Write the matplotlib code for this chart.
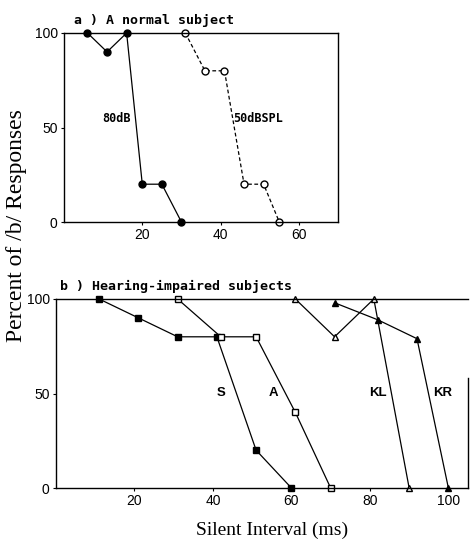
import matplotlib
matplotlib.use("Agg")
import matplotlib.pyplot as plt

# ---- data ----
# a) normal subject
x_80 = [6, 11, 16, 20, 25, 30]
y_80 = [100, 90, 100, 20, 20, 0]
x_50 = [31, 36, 41, 46, 51, 55]
y_50 = [100, 80, 80, 20, 20, 0]

# b) hearing-impaired subjects
x_S = [11, 21, 31, 41, 51, 60]
y_S = [100, 90, 80, 80, 20, 0]
x_A = [31, 42, 51, 61, 70]
y_A = [100, 80, 80, 40, 0]
x_KL = [61, 71, 81, 90]
y_KL = [100, 80, 100, 0]
x_KR = [71, 82, 92, 100]
y_KR = [98, 89, 79, 0]

xticks_a = [20, 40, 60]
xticks_b = [20, 40, 60, 80, 100]
yticks = [0, 50, 100]

W, H = 471, 546
fig = plt.figure(figsize=(W / 100, H / 100), dpi=100)

def ax_rect(l, r, t, b):
    return [l / W, 1 - b / H, (r - l) / W, (b - t) / H]

ax1 = fig.add_axes(ax_rect(64, 338, 33, 222))
ax2 = fig.add_axes(ax_rect(56, 468, 299, 488))

lw = 0.9
mono = {"family": "DejaVu Sans Mono", "weight": "bold"}
tick_font = "Liberation Sans"

ax1.set_xlim(0, 70)
ax1.set_xticks(xticks_a)
ax2.set_xlim(0, 105)
ax2.set_xticks(xticks_b)

for ax in (ax1, ax2):
    ax.set_ylim(0, 100)
    ax.set_yticks(yticks)
    ax.tick_params(direction="out", length=2.5, width=0.8, pad=2, labelsize=10)
    for lab in ax.get_xticklabels() + ax.get_yticklabels():
        lab.set_fontfamily(tick_font)
    for sp in ax.spines.values():
        sp.set_linewidth(1.0)

# panel a
ax1.plot(x_80, y_80, color="black", lw=lw, marker="o", ms=5, mfc="black",
         mec="black", clip_on=False)
ax1.plot(x_50, y_50, color="black", lw=lw, ls=(0, (3, 2)), marker="o", ms=5,
         mfc="white", mec="black", clip_on=False)
ax1.text(13.5, 55, "80dB", fontsize=8.5, ha="center", va="center", **mono)
ax1.text(49.5, 55, "50dBSPL", fontsize=8.5, ha="center", va="center", **mono)
ax1.text(2.5, 103, "a ) A normal subject", fontsize=9.5, ha="left",
         va="bottom", **mono)

# panel b
ax2.plot(x_S, y_S, color="black", lw=lw, marker="s", ms=4.5, mfc="black",
         mec="black", clip_on=False)
ax2.plot(x_A, y_A, color="black", lw=lw, marker="s", ms=4.5, mfc="white",
         mec="black", clip_on=False)
ax2.plot(x_KL, y_KL, color="black", lw=lw, marker="^", ms=5, mfc="white",
         mec="black", clip_on=False)
ax2.plot(x_KR, y_KR, color="black", lw=lw, marker="^", ms=5, mfc="black",
         mec="black", clip_on=False)
for txt, xx in (("S", 42), ("A", 55.5), ("KL", 82), ("KR", 98.5)):
    ax2.text(xx, 50, txt, fontsize=9.5, fontweight="bold", family="Liberation Sans",
             ha="center", va="center")
ax2.text(1, 103, "b ) Hearing-impaired subjects", fontsize=9.5, ha="left",
         va="bottom", **mono)
ax2.spines["right"].set_bounds(0, 58)

fig.text(17 / W, 1 - 226 / H, "Percent of /b/ Responses", rotation=90,
         ha="center", va="center", fontsize=17, family="Liberation Serif")
fig.text(272 / W, 1 - 530 / H, "Silent Interval (ms)", ha="center",
         va="center", fontsize=14, family="Liberation Serif")

fig.savefig("out.png", dpi=100)
